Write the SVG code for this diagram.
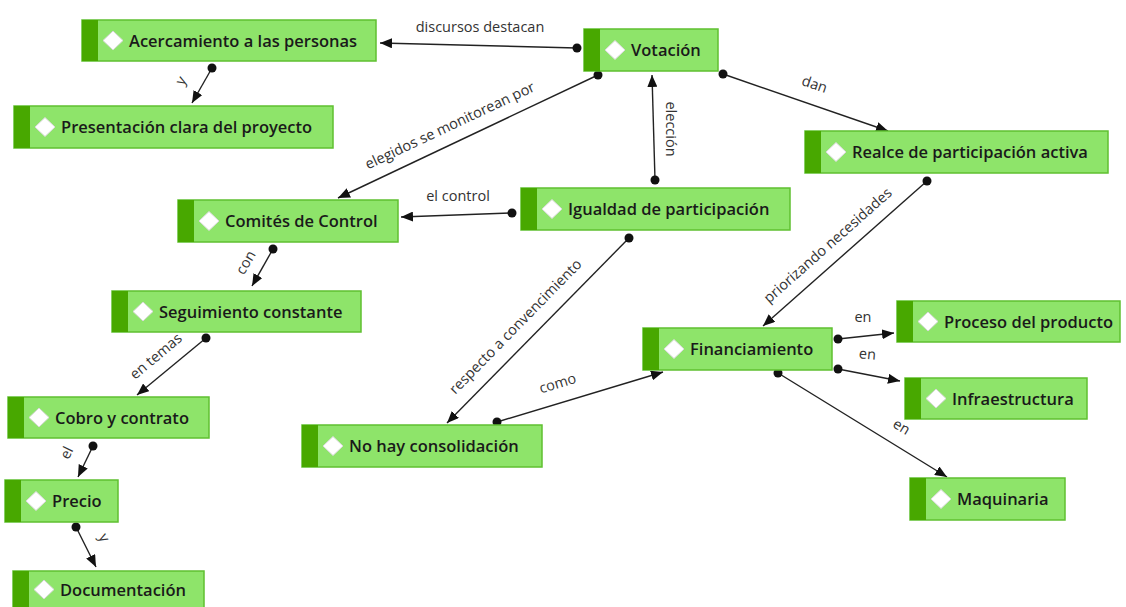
<svg xmlns="http://www.w3.org/2000/svg" width="1126" height="607" viewBox="0 0 1126 607">
<style>
.box{fill:#8ee46a;stroke:#5fc030;stroke-width:1.5}
.strip{fill:#48a800}
.dia{fill:#ffffff;stroke:#d8d8d8;stroke-width:1}
.nt{font-family:"Open Sans","Noto Sans",sans-serif;font-size:16.5px;font-weight:600;fill:#1a1a1a}
.ln{stroke:#222;stroke-width:1.4;fill:none;marker-start:url(#dot);marker-end:url(#arr)}
.lb{font-family:"Open Sans","Noto Sans",sans-serif;font-size:14.5px;fill:#333;text-anchor:middle}
</style>
<defs>
<marker id="arr" viewBox="0 0 12 10" refX="12" refY="5" markerWidth="12" markerHeight="10" markerUnits="userSpaceOnUse" orient="auto"><path d="M0,0 L12,5 L0,10 z" fill="#111"/></marker>
<marker id="dot" viewBox="0 0 10 10" refX="5" refY="5" markerWidth="10" markerHeight="10" markerUnits="userSpaceOnUse"><circle cx="5" cy="5" r="4.5" fill="#111"/></marker>
</defs>
<rect width="1126" height="607" fill="#ffffff"/>
<g id="connectors">
<line class="ln" x1="577" y1="48" x2="380" y2="43"/>
<text class="lb" x="480" y="32">discursos destacan</text>
<line class="ln" x1="212" y1="68" x2="192" y2="103"/>
<text class="lb" transform="translate(185,83) rotate(-60)">y</text>
<line class="ln" x1="598" y1="75" x2="338" y2="198"/>
<text class="lb" transform="translate(452,130) rotate(-25.2)">elegidos se monitorean por</text>
<line class="ln" x1="723" y1="74" x2="888" y2="131"/>
<text class="lb" transform="translate(813,89) rotate(18.7)">dan</text>
<line class="ln" x1="655" y1="180" x2="652" y2="75"/>
<text class="lb" transform="translate(666,129) rotate(90)">elección</text>
<line class="ln" x1="512" y1="213" x2="401" y2="217"/>
<text class="lb" x="458" y="201">el control</text>
<line class="ln" x1="273" y1="249" x2="252" y2="286"/>
<text class="lb" transform="translate(250,265) rotate(-60)">con</text>
<line class="ln" x1="206" y1="338" x2="137" y2="395"/>
<text class="lb" transform="translate(159,360) rotate(-40)">en temas</text>
<line class="ln" x1="93" y1="446" x2="78" y2="477"/>
<text class="lb" transform="translate(71,455) rotate(-64)">el</text>
<line class="ln" x1="76" y1="527" x2="96" y2="567"/>
<text class="lb" transform="translate(100,540) rotate(62)">y</text>
<line class="ln" x1="629" y1="238" x2="447" y2="423"/>
<text class="lb" transform="translate(519,330) rotate(-45.6)">respecto a convencimiento</text>
<line class="ln" x1="497" y1="422" x2="663" y2="372"/>
<text class="lb" transform="translate(559,388) rotate(-17)">como</text>
<line class="ln" x1="927" y1="181" x2="763" y2="326"/>
<text class="lb" transform="translate(831,249) rotate(-41.5)">priorizando necesidades</text>
<line class="ln" x1="838" y1="339" x2="894" y2="333"/>
<text class="lb" x="863" y="322">en</text>
<line class="ln" x1="838" y1="369" x2="900" y2="381"/>
<text class="lb" transform="translate(867,359) rotate(5)">en</text>
<line class="ln" x1="778" y1="373" x2="947" y2="477"/>
<text class="lb" transform="translate(899,431) rotate(31)">en</text>
</g>
<g id="n-acercamiento">
<rect class="box" x="82" y="20" width="294" height="41"/><rect class="strip" x="82" y="20" width="16" height="41"/>
<path class="dia" d="M113,31 L123,40.5 L113,50 L103,40.5 z"/>
<text class="nt" x="129" y="46.5">Acercamiento a las personas</text>
</g>
<g id="n-presentacion">
<rect class="box" x="14" y="106" width="319" height="42"/><rect class="strip" x="14" y="106" width="16" height="42"/>
<path class="dia" d="M45,117.5 L55,127 L45,136.5 L35,127 z"/>
<text class="nt" x="61" y="132.5">Presentación clara del proyecto</text>
</g>
<g id="n-votacion">
<rect class="box" x="584" y="29" width="134" height="42"/><rect class="strip" x="584" y="29" width="16" height="42"/>
<path class="dia" d="M615,40.5 L625,50 L615,59.5 L605,50 z"/>
<text class="nt" x="631" y="55.5">Votación</text>
</g>
<g id="n-realce">
<rect class="box" x="805" y="131" width="303" height="42"/><rect class="strip" x="805" y="131" width="16" height="42"/>
<path class="dia" d="M836,142.5 L846,152 L836,161.5 L826,152 z"/>
<text class="nt" x="852" y="157.5">Realce de participación activa</text>
</g>
<g id="n-comites">
<rect class="box" x="178" y="200" width="220" height="42"/><rect class="strip" x="178" y="200" width="16" height="42"/>
<path class="dia" d="M209,211.5 L219,221 L209,230.5 L199,221 z"/>
<text class="nt" x="225" y="226.5">Comités de Control</text>
</g>
<g id="n-igualdad">
<rect class="box" x="521" y="188" width="269" height="42"/><rect class="strip" x="521" y="188" width="16" height="42"/>
<path class="dia" d="M552,199.5 L562,209 L552,218.5 L542,209 z"/>
<text class="nt" x="568" y="214.5">Igualdad de participación</text>
</g>
<g id="n-seguimiento">
<rect class="box" x="112" y="291" width="249" height="41"/><rect class="strip" x="112" y="291" width="16" height="41"/>
<path class="dia" d="M143,302 L153,311.5 L143,321 L133,311.5 z"/>
<text class="nt" x="159" y="317.5">Seguimiento constante</text>
</g>
<g id="n-cobro">
<rect class="box" x="8" y="397" width="201" height="41"/><rect class="strip" x="8" y="397" width="16" height="41"/>
<path class="dia" d="M39,408 L49,417.5 L39,427 L29,417.5 z"/>
<text class="nt" x="55" y="423.5">Cobro y contrato</text>
</g>
<g id="n-precio">
<rect class="box" x="5" y="480" width="113" height="42"/><rect class="strip" x="5" y="480" width="16" height="42"/>
<path class="dia" d="M36,491.5 L46,501 L36,510.5 L26,501 z"/>
<text class="nt" x="52" y="506.5">Precio</text>
</g>
<g id="n-documentacion">
<rect class="box" x="13" y="571" width="191" height="42"/><rect class="strip" x="13" y="571" width="16" height="42"/>
<path class="dia" d="M44,580 L54,589.5 L44,599 L34,589.5 z"/>
<text class="nt" x="60" y="595.5">Documentación</text>
</g>
<g id="n-nohay">
<rect class="box" x="302" y="425" width="240" height="42"/><rect class="strip" x="302" y="425" width="16" height="42"/>
<path class="dia" d="M333,436.5 L343,446 L333,455.5 L323,446 z"/>
<text class="nt" x="349" y="451.5">No hay consolidación</text>
</g>
<g id="n-financiamiento">
<rect class="box" x="643" y="328" width="189" height="42"/><rect class="strip" x="643" y="328" width="16" height="42"/>
<path class="dia" d="M674,339.5 L684,349 L674,358.5 L664,349 z"/>
<text class="nt" x="690" y="354.5">Financiamiento</text>
</g>
<g id="n-proceso">
<rect class="box" x="897" y="301" width="223" height="41"/><rect class="strip" x="897" y="301" width="16" height="41"/>
<path class="dia" d="M928,312 L938,321.5 L928,331 L918,321.5 z"/>
<text class="nt" x="944" y="327.5">Proceso del producto</text>
</g>
<g id="n-infraestructura">
<rect class="box" x="905" y="378" width="182" height="41"/><rect class="strip" x="905" y="378" width="16" height="41"/>
<path class="dia" d="M936,389 L946,398.5 L936,408 L926,398.5 z"/>
<text class="nt" x="952" y="404.5">Infraestructura</text>
</g>
<g id="n-maquinaria">
<rect class="box" x="910" y="478" width="155" height="42"/><rect class="strip" x="910" y="478" width="16" height="42"/>
<path class="dia" d="M941,489.5 L951,499 L941,508.5 L931,499 z"/>
<text class="nt" x="957" y="504.5">Maquinaria</text>
</g>
</svg>
